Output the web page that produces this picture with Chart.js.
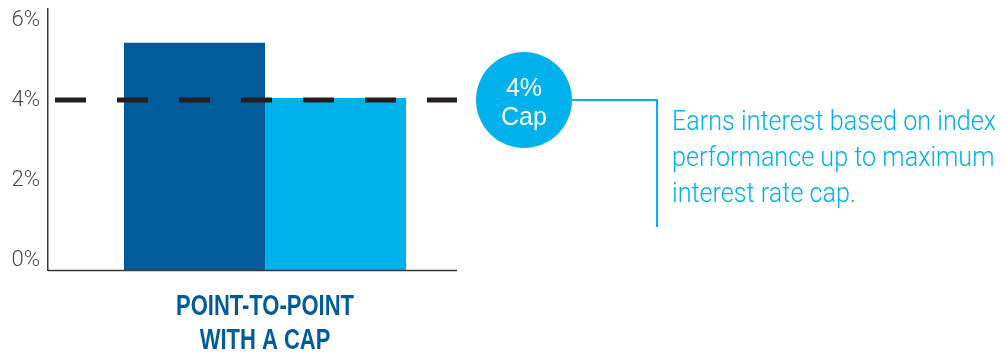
<!DOCTYPE html>
<html>
<head>
<meta charset="utf-8">
<script src="https://cdn.jsdelivr.net/npm/chart.js@4.4.1/dist/chart.umd.min.js"></script>
<style>
  html, body { margin: 0; padding: 0; background: #fff; }
  canvas { display: block; }
</style>
</head>
<body>
<canvas id="chart" width="1001" height="354"></canvas>
<script>
// data
let categories = [["POINT-TO-POINT", "WITH A CAP"]];
let seriesNames = ["Index performance", "Interest credited"];
let indexValues = [5.43];
let creditedValues = [4.05];
let capValue = 4;
let capLabel = ["4%", "Cap"];
let yTicks = [0, 2, 4, 6];
let yMin = -0.25;
let yMax = 6.275;
let noteLines = [
  "Earns interest based on index",
  "performance up to maximum",
  "interest rate cap.",
];

const darkBlue = "#005b9a";
const lightBlue = "#00b1ec";
const axisColor = "#3a3a3a";

// draws the cap line, the callout and the texts
const extras = {
  id: "extras",
  afterDatasetsDraw(chart) {
    const c = chart.ctx;
    const area = chart.chartArea;
    const xs = chart.scales.x;
    const ys = chart.scales.y;
    const capY = ys.getPixelForValue(capValue);
    const lineEnd = 457;

    c.save();
    // x axis line
    c.strokeStyle = axisColor;
    c.lineWidth = 1.5;
    c.beginPath();
    c.moveTo(area.left, area.bottom + 0.5);
    c.lineTo(lineEnd, area.bottom + 0.5);
    c.stroke();

    // dashed cap line
    c.strokeStyle = "#231f20";
    c.lineWidth = 5;
    c.setLineDash([31, 31]);
    c.beginPath();
    c.moveTo(area.left + 7, capY);
    c.lineTo(lineEnd, capY);
    c.stroke();
    c.setLineDash([]);

    // callout circle + connector
    const cx = 524, r = 48;
    c.strokeStyle = lightBlue;
    c.lineWidth = 2;
    c.beginPath();
    c.moveTo(cx + r - 2, capY);
    c.lineTo(657, capY);
    c.lineTo(657, 227);
    c.stroke();
    c.fillStyle = lightBlue;
    c.beginPath();
    c.arc(cx, capY, r, 0, Math.PI * 2);
    c.fill();

    c.fillStyle = "#fff";
    c.textAlign = "center";
    c.textBaseline = "alphabetic";
    c.font = '25px "Liberation Sans", Arial, sans-serif';
    c.fillText(capLabel[0], cx, capY - 4);
    c.fillText(capLabel[1], cx, capY + 25);

    // note text, condensed
    c.fillStyle = lightBlue;
    c.textAlign = "left";
    c.font = '300 28px Roboto, "Liberation Sans", sans-serif';
    let sx = 324 / c.measureText(noteLines[0]).width;
    noteLines.forEach((line, i) => {
      c.save();
      c.translate(672, 130 + i * 36);
      c.scale(sx, 1);
      c.fillText(line, 0, 0);
      c.restore();
    });

    // category label, condensed bold
    c.fillStyle = darkBlue;
    c.textAlign = "center";
    c.font = 'bold 29px "Liberation Sans", Arial, sans-serif';
    let lines = categories[0];
    let cs = 178 / c.measureText(lines[0]).width;
    let lx = xs.getPixelForValue(0);
    lines.forEach((line, i) => {
      c.save();
      c.translate(lx, area.bottom + 45 + i * 34);
      c.scale(cs, 1);
      c.fillText(line, 0, 0);
      c.restore();
    });
    c.restore();
  },
};

const ctx = document.getElementById("chart");
let myChart = new Chart(ctx, {
  type: "bar",
  data: {
    labels: categories,
    datasets: [
      {
        label: seriesNames[0],
        data: indexValues,
        backgroundColor: darkBlue,
        base: yMin,
      },
      {
        label: seriesNames[1],
        data: creditedValues,
        backgroundColor: lightBlue,
        base: yMin,
      },
    ],
  },
  options: {
    responsive: false,
    animation: false,
    categoryPercentage: 0.65,
    barPercentage: 1.0,
    layout: {
      padding: { top: 9, right: 519, left: 0, bottom: 0 },
    },
    scales: {
      x: {
        grid: { display: false, drawTicks: false },
        border: { display: false },
        ticks: { display: false },
        afterFit(scale) {
          scale.height = 84;
        },
      },
      y: {
        min: yMin,
        max: yMax,
        grid: { display: false, drawTicks: false },
        border: { display: true, color: axisColor, width: 1.5 },
        afterBuildTicks(scale) {
          scale.ticks = yTicks.map((v) => ({ value: v }));
        },
        ticks: {
          padding: 8,
          color: "#4a4a4a",
          font: { family: "Roboto", weight: "300", size: 22 },
          callback: (v) => v + "%",
        },
        afterFit(scale) {
          scale.width = 48;
          scale.paddingTop = 0;
          scale.paddingBottom = 0;
        },
      },
    },
    plugins: {
      legend: { display: false },
      tooltip: { enabled: false },
    },
  },
  plugins: [extras],
});
</script>
</body>
</html>
